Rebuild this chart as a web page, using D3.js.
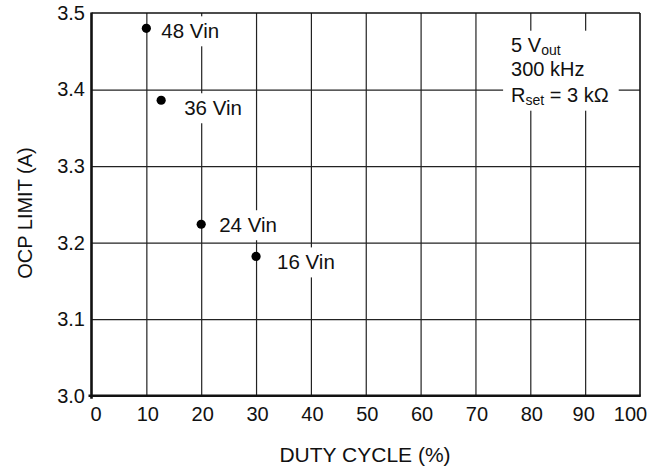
<!DOCTYPE html>
<html>
<head>
<meta charset="utf-8">
<script src="https://cdn.jsdelivr.net/npm/d3@7"></script>
<style>
  html, body { margin: 0; padding: 0; background: #fff; }
  svg { display: block; }
  text { font-family: "Liberation Sans", Arial, Helvetica, sans-serif; fill: #111; }
</style>
</head>
<body>
<svg id="chart" width="663" height="469"></svg>
<script>
// ---- data ----
const seriesLabels = ["48 Vin", "36 Vin", "24 Vin", "16 Vin"];
const dutyCycle = [10, 12.7, 20, 30];          // %
const ocpLimit = [3.480, 3.386, 3.224, 3.182]; // A
const xTicks = [0, 10, 20, 30, 40, 50, 60, 70, 80, 90, 100];
const yTicks = [3.0, 3.1, 3.2, 3.3, 3.4, 3.5];
const xTitle = "DUTY CYCLE (%)";
const yTitle = "OCP LIMIT (A)";

// ---- layout ----
const W = 663, H = 469;
const m = { left: 91.5, top: 13, right: 23, bottom: 73.3 };
const w = W - m.left - m.right, h = H - m.top - m.bottom;
// label offsets (px) from each point
const labelOffsets = [[15, 10], [23, 15], [18, 8], [21, 13]];

const svg = d3.select("#chart");
const g = svg.append("g").attr("transform", `translate(${m.left},${m.top})`);

const x = d3.scaleLinear().domain([0, 100]).range([0, w]);
const y = d3.scaleLinear().domain([3.0, 3.5]).range([h, 0]);

// gridlines
const gridX = g.append("g").attr("transform", `translate(0,${h})`)
  .call(d3.axisBottom(x).tickValues(xTicks.slice(1, -1)).tickSize(-h).tickFormat(""));
const gridY = g.append("g")
  .call(d3.axisLeft(y).tickValues(yTicks.slice(1, -1)).tickSize(-w).tickFormat(""));
[gridX, gridY].forEach(s => {
  s.select(".domain").remove();
  s.selectAll("line").attr("stroke", "#222").attr("stroke-width", 1.2);
});

// tick labels
const axX = g.append("g").attr("transform", `translate(0,${h})`)
  .call(d3.axisBottom(x).tickValues(xTicks).tickSize(0).tickPadding(11).tickFormat(d3.format("d")));
const axY = g.append("g")
  .call(d3.axisLeft(y).tickValues(yTicks).tickSize(0).tickPadding(6.5).tickFormat(d3.format(".1f")));
[axX, axY].forEach(s => {
  s.select(".domain").remove();
  s.selectAll("text").attr("font-size", 20).attr("fill", "#111")
    .style("font-family", '"Liberation Sans", Arial, sans-serif');
});
// nudge the end labels inward as in the reference
axX.selectAll(".tick text").attr("dx", d => d === 0 ? 4 : (d === 100 ? -10 : (d === 90 ? -2 : 1)));

// label background layer
const bgLayer = g.append("g");

// annotation
const ann = g.append("g");
const annX = x(76.5);
const t1 = ann.append("text").attr("x", annX).attr("y", 38.7).attr("font-size", 20);
t1.append("tspan").text("5 V");
t1.append("tspan").attr("font-size", 14).attr("dy", 3).text("out");
ann.append("text").attr("x", annX).attr("y", 63.2).attr("font-size", 20).text("300 kHz");
const t3 = ann.append("text").attr("x", annX).attr("y", 88.7).attr("font-size", 20);
t3.append("tspan").text("R");
t3.append("tspan").attr("font-size", 14).attr("dy", 3).text("set");
t3.append("tspan").attr("dy", -3).text(" = 3 k\u03A9");
{
  const bb = ann.node().getBBox();
  bgLayer.append("rect")
    .attr("x", bb.x - 8).attr("y", bb.y - 3)
    .attr("width", bb.width + 18).attr("height", bb.height + 6)
    .attr("fill", "#fff");
}

// point labels
const pts = dutyCycle.map((d, i) => ({ x: d, y: ocpLimit[i], label: seriesLabels[i], off: labelOffsets[i] }));
const lbl = g.append("g").selectAll("text").data(pts).join("text")
  .attr("x", d => x(d.x) + d.off[0])
  .attr("y", d => y(d.y) + d.off[1])
  .attr("font-size", 20.5)
  .text(d => d.label);
lbl.each(function () {
  const bb = this.getBBox();
  bgLayer.append("rect")
    .attr("x", bb.x - 3).attr("y", bb.y - 3)
    .attr("width", bb.width + 6).attr("height", bb.height + 7)
    .attr("fill", "#fff");
});

// frame
const frame = g.append("g").attr("stroke", "#111").attr("fill", "none");
frame.append("line").attr("x1", 0).attr("x2", w).attr("y1", 0).attr("y2", 0).attr("stroke-width", 1.6);
frame.append("line").attr("x1", w).attr("x2", w).attr("y1", 0).attr("y2", h).attr("stroke-width", 1.6);
frame.append("line").attr("x1", 0).attr("x2", 0).attr("y1", -0.5).attr("y2", h + 3).attr("stroke-width", 2.6);
frame.append("line").attr("x1", -3).attr("x2", w + 0.8).attr("y1", h).attr("y2", h).attr("stroke-width", 2.6);

// points
g.append("g").selectAll("circle").data(pts).join("circle")
  .attr("cx", d => x(d.x)).attr("cy", d => y(d.y)).attr("r", 4.6).attr("fill", "#000");

// axis titles
svg.append("text").attr("x", 365).attr("y", 462).attr("text-anchor", "middle")
  .attr("font-size", 21).text(xTitle);
svg.append("text").attr("transform", `translate(32,213) rotate(-90)`).attr("text-anchor", "middle")
  .attr("font-size", 20).text(yTitle);
</script>
</body>
</html>
